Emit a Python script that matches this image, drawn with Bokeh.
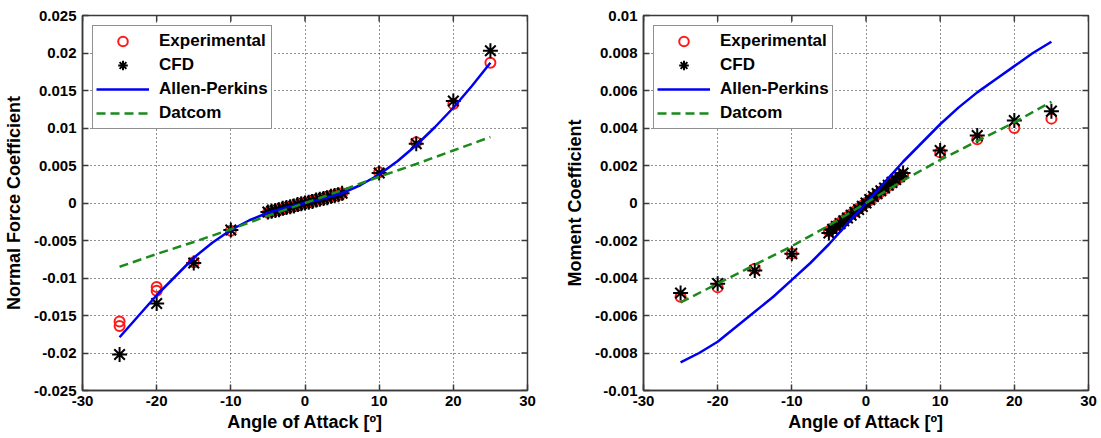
from bokeh.plotting import figure
from bokeh.layouts import row
from bokeh.models import FixedTicker, CustomJSTickFormatter, Range1d
from bokeh.embed import file_html
from bokeh.resources import INLINE

# ---- Normal force coefficient data ----
alpha_exp_cn = [-25, -25, -20, -20, -15, -10,
                -5, -4.5, -4, -3.5, -3, -2.5, -2, -1.5, -1, -0.5, 0,
                0.5, 1, 1.5, 2, 2.5, 3, 3.5, 4, 4.5, 5,
                10, 15, 20, 25]
cn_exp = [-0.0158, -0.0164, -0.0112, -0.0117, -0.0079, -0.0037,
          -0.0013, -0.0011, -0.0010, -0.0009, -0.0008, -0.0006, -0.0005, -0.0004, -0.0003, -0.0001, 0.0,
          0.0001, 0.0003, 0.0004, 0.0005, 0.0006, 0.0008, 0.0009, 0.0010, 0.0011, 0.0013,
          0.0041, 0.0081, 0.0132, 0.0187]

alpha_cfd = [-25, -20, -15, -10,
             -5, -4.5, -4, -3.5, -3, -2.5, -2, -1.5, -1, -0.5, 0,
             0.5, 1, 1.5, 2, 2.5, 3, 3.5, 4, 4.5, 5,
             10, 15, 20, 25]
cn_cfd = [-0.0202, -0.0134, -0.0080, -0.0036,
          -0.0012, -0.0011, -0.0010, -0.0009, -0.0007, -0.0006, -0.0005, -0.0004, -0.0002, -0.0001, 0.0,
          0.0001, 0.0002, 0.0004, 0.0005, 0.0006, 0.0007, 0.0009, 0.0010, 0.0011, 0.0013,
          0.0040, 0.0079, 0.0136, 0.0203]

alpha_curve = [-25, -22.5, -20, -17.5, -15, -12.5, -10, -7.5, -5, -2.5, 0,
               2.5, 5, 7.5, 10, 12.5, 15, 17.5, 20, 22.5, 25]
cn_allen = [-0.0179, -0.0151, -0.0123, -0.0098, -0.0073, -0.0053, -0.0036, -0.0023, -0.0013, -0.0006, 0.0,
            0.0006, 0.0013, 0.0024, 0.0038, 0.0056, 0.0077, 0.0101, 0.0127, 0.0156, 0.0187]

alpha_datcom = [-25, -20, -15, -10, -5, 0, 5, 10, 15, 20, 25]
cn_datcom = [-0.0085, -0.0068, -0.0052, -0.0035, -0.0017, 0.0, 0.0017, 0.0035, 0.0052, 0.0070, 0.0088]

# ---- Moment coefficient data ----
alpha_exp_cm = [-25, -20, -15, -10,
                -5, -4.5, -4, -3.5, -3, -2.5, -2, -1.5, -1, -0.5, 0,
                0.5, 1, 1.5, 2, 2.5, 3, 3.5, 4, 4.5, 5,
                10, 15, 20, 25]
cm_exp = [-0.0050, -0.0045, -0.0035, -0.0027,
          -0.0015, -0.00135, -0.0012, -0.00105, -0.0009, -0.00075, -0.0006, -0.00045, -0.0003, -0.00015, 0.0,
          0.00015, 0.0003, 0.00045, 0.0006, 0.00075, 0.0009, 0.00105, 0.0012, 0.00135, 0.0015,
          0.0027, 0.0034, 0.0040, 0.0045]
cm_cfd = [-0.0048, -0.0043, -0.0036, -0.0027,
          -0.0016, -0.0014, -0.00125, -0.0011, -0.00095, -0.0008, -0.00065, -0.0005, -0.00035, -0.00018, 0.0,
          0.00018, 0.00035, 0.0005, 0.00065, 0.0008, 0.00095, 0.0011, 0.00125, 0.0014, 0.0016,
          0.0028, 0.0036, 0.0044, 0.0049]
cm_allen = [-0.0085, -0.0080, -0.0074, -0.0066, -0.0058, -0.0050, -0.0041, -0.0032, -0.0022, -0.0011, 0.0,
            0.0011, 0.0022, 0.0032, 0.0042, 0.0051, 0.0059, 0.0066, 0.0073, 0.0080, 0.0086]
cm_datcom = [-0.0053, -0.0043, -0.0033, -0.0023, -0.0012, 0.0, 0.0012, 0.0023, 0.0033, 0.0043, 0.0054]

x_ticks = [-30, -20, -10, 0, 10, 20, 30]
cn_ticks = [-0.025, -0.02, -0.015, -0.01, -0.005, 0, 0.005, 0.01, 0.015, 0.02, 0.025]
cm_ticks = [-0.01, -0.008, -0.006, -0.004, -0.002, 0, 0.002, 0.004, 0.006, 0.008, 0.01]

FONT = "Liberation Sans"
FRAME = "#3a3a3a"
TICK_PX = 6
FRAME_W, FRAME_H = 445, 375
fmt_code = "return Number(tick.toFixed(4)).toString();"


def style_axis(ax, ticks):
    ax.ticker = FixedTicker(ticks=ticks)
    ax.formatter = CustomJSTickFormatter(code=fmt_code)
    ax.major_tick_in = TICK_PX
    ax.major_tick_out = 0
    ax.minor_tick_line_color = None
    ax.major_tick_line_color = FRAME
    ax.major_tick_line_width = 1.5
    ax.axis_line_color = FRAME
    ax.axis_line_width = 1.5
    ax.major_label_text_font = FONT
    ax.major_label_text_font_style = "bold"
    ax.major_label_text_color = "black"
    ax.major_label_text_font_size = "15px"
    ax.axis_label_text_font = FONT
    ax.axis_label_text_font_style = "bold"
    ax.axis_label_text_font_size = "18px"
    ax.axis_label_text_color = "black"


def make_panel(width, left, right, y_lo, y_hi, y_ticks, y_label,
               ex, ey, cx, cy, ay, dy):
    p = figure(width=width, height=438, output_backend="svg", toolbar_location=None,
               x_range=Range1d(-30, 30), y_range=Range1d(y_lo, y_hi),
               min_border_left=left, min_border_right=right,
               min_border_top=15, min_border_bottom=48)
    p.background_fill_color = "white"
    p.border_fill_color = "white"
    p.outline_line_color = FRAME
    p.outline_line_width = 1.5

    xax = p.xaxis[0]
    yax = p.yaxis[0]
    style_axis(xax, x_ticks)
    style_axis(yax, y_ticks)
    xax.major_label_standoff = 5
    yax.major_label_standoff = 6
    xax.axis_label = "Angle of Attack [º]"
    yax.axis_label = y_label
    xax.axis_label_standoff = 3
    yax.axis_label_standoff = 7

    p.grid.grid_line_color = "#222222"
    p.grid.grid_line_dash = "1 3"
    p.grid.grid_line_width = 1
    p.xgrid.ticker = FixedTicker(ticks=x_ticks)
    p.ygrid.ticker = FixedTicker(ticks=y_ticks)

    # inward tick marks along the top and right edges of the box
    dy_tick = (y_hi - y_lo) * TICK_PX / FRAME_H
    dx_tick = 60 * TICK_PX / FRAME_W
    p.segment(x0=x_ticks, y0=[y_hi] * len(x_ticks), x1=x_ticks,
              y1=[y_hi - dy_tick] * len(x_ticks), line_color=FRAME, line_width=1.5)
    p.segment(x0=[30] * len(y_ticks), y0=y_ticks, x1=[30 - dx_tick] * len(y_ticks),
              y1=y_ticks, line_color=FRAME, line_width=1.5)

    p.scatter(ex, ey, marker="circle", size=10, fill_color=None,
              line_color="#ff1a1a", line_width=2, legend_label="Experimental")
    p.scatter(cx, cy, marker="asterisk", size=15, line_color="black",
              line_width=2, legend_label="CFD")
    p.line(alpha_curve, ay, line_color="#0000f0", line_width=2.5,
           legend_label="Allen-Perkins")
    p.line(alpha_datcom, dy, line_color="#1a8a1a", line_width=2.5,
           line_dash="9 5", legend_label="Datcom")

    lg = p.legend[0]
    lg.location = "top_left"
    lg.margin = 10
    lg.padding = 3
    lg.spacing = 0
    lg.glyph_width = 53
    lg.glyph_height = 24
    lg.label_height = 18
    lg.label_standoff = 10
    lg.label_text_font = FONT
    lg.label_text_font_style = "bold"
    lg.label_text_font_size = "17px"
    lg.label_text_color = "black"
    lg.border_line_color = "#222222"
    lg.border_line_width = 1.5
    lg.background_fill_color = "white"
    lg.background_fill_alpha = 1.0
    return p


p_cn = make_panel(557, 82, 30, -0.025, 0.025, cn_ticks, "Normal Force Coefficient",
                  alpha_exp_cn, cn_exp, alpha_cfd, cn_cfd, cn_allen, cn_datcom)
p_cm = make_panel(544, 86, 13, -0.01, 0.01, cm_ticks, "Moment Coefficient",
                  alpha_exp_cm, cm_exp, alpha_cfd, cm_cfd, cm_allen, cm_datcom)

layout = row(p_cn, p_cm)
open("out.html", "w").write(file_html(layout, INLINE))
